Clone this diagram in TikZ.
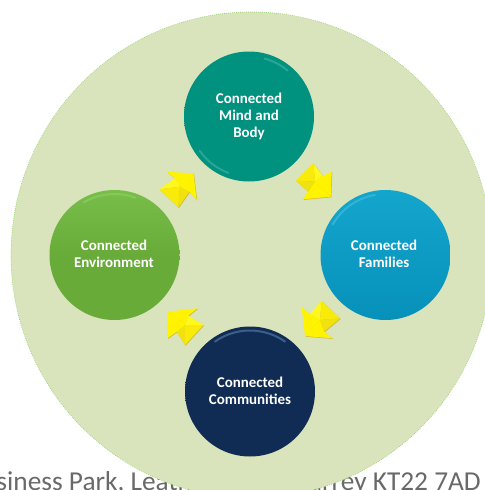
\documentclass[tikz,border=0pt]{standalone}
\usepackage{fontspec}
\setmainfont{Carlito}
\definecolor{bgc}{RGB}{217,228,188}
\definecolor{rimc}{RGB}{150,205,110}
\definecolor{tealc}{RGB}{0,146,127}
\definecolor{teall}{RGB}{40,165,150}
\definecolor{bluec}{RGB}{6,145,186}
\definecolor{bluet}{RGB}{20,165,205}
\definecolor{bluel}{RGB}{50,180,215}
\definecolor{greenc}{RGB}{104,171,56}
\definecolor{greent}{RGB}{120,190,75}
\definecolor{greenl}{RGB}{135,200,90}
\definecolor{navyc}{RGB}{16,44,84}
\definecolor{navyl}{RGB}{60,95,135}
\definecolor{footc}{RGB}{105,105,105}
\definecolor{ya}{RGB}{255,243,0}
\definecolor{yb}{RGB}{255,248,30}
\definecolor{yc}{RGB}{248,235,10}
\definecolor{yd}{RGB}{240,225,15}
\definecolor{ye}{RGB}{205,190,60}
\tikzset{
  disc/.style={circle,minimum size=130*0.75pt,inner sep=0pt},
  disclabel/.style={text=white,font=\fontsize{11.2}{12.8}\selectfont\bfseries,align=center},
  zoomed/.style={x=0.25pt,y=-0.25pt,shift={(105pt,-112.5pt)}},
  rim/.style={line width=1.5pt,line cap=round},
  foottext/.style={inner sep=0pt,text=footc,font=\fontsize{20.5}{24}\selectfont}
}
% tip, barb1, notch1, body1, body2, notch2, barb2, centre
\newcommand{\yellowarrow}[8]{%
  \fill[ye,shift={(0.5pt,-0.5pt)}] (#1)--(#2)--(#3)--(#4)--(#5)--(#6)--(#7)--cycle;
  \fill[ya] (#8)--(#1)--(#2)--(#3)--cycle;
  \fill[yb] (#8)--(#3)--(#4)--cycle;
  \fill[yc] (#8)--(#4)--(#5)--cycle;
  \fill[yd] (#8)--(#5)--(#6)--cycle;
  \fill[ya] (#8)--(#6)--(#7)--(#1)--cycle;
}
\begin{document}
\begin{tikzpicture}[x=0.75pt,y=-0.75pt]
\useasboundingbox (0,0) rectangle (485,490);
\begin{scope}
\clip (0,0) rectangle (485,490);
\node[foottext,anchor=base west] (footl) at (-33,490) {Business Park, Leatherhead,};
\node[foottext,anchor=base east] (footr) at (481,490) {Surrey KT22 7AD};
\fill[bgc,draw=rimc,densely dotted,line width=0.5pt] (251.5,255) ellipse [x radius=240.5,y radius=243];
\end{scope}

\node[disc,top color=tealc,bottom color=tealc] (mind) at (249,116.5) {};
\node[disc,top color=bluet,bottom color=bluec,shading angle=0] (fam) at (385.5,255) {};
\node[disc,top color=navyc,bottom color=navyc] (comm) at (250,391.5) {};
\node[disc,top color=greent,bottom color=greenc,middle color=greenc] (env) at (114.5,255) {};

\draw[rim,teall] (mind.center) ++(-50:60) arc (-50:-75:60);
\draw[rim,teall] (mind.center) ++(-215:60) arc (-215:-250:60);
\draw[rim,bluel] (fam.center) ++(-100:61) arc (-100:-150:61);
\draw[rim,navyl] (comm.center) ++(-55:61) arc (-55:-125:61);
\draw[rim,greenl] (env.center) ++(-70:61) arc (-70:-120:61);

\node[disclabel] (mindt) at (249,116.5) {Connected\\Mind and\\Body};
\node[disclabel] (famt) at (384,254) {Connected\\Families};
\node[disclabel] (commt) at (250,391) {Connected\\Communities};
\node[disclabel] (envt) at (114,254) {Connected\\Environment};

\begin{scope}[zoomed]
\yellowarrow{160,70}{80,65}{105,85}{58,118}{115,172}{148,125}{170,150}{120,110}
\yellowarrow{572,140}{575,65}{548,78}{520,40}{468,92}{505,125}{488,148}{525,95}
\yellowarrow{495,558}{485,472}{510,492}{545,452}{600,505}{552,545}{578,565}{540,510}
\yellowarrow{85,485}{172,475}{145,497}{190,525}{135,585}{110,545}{82,565}{135,525}
\end{scope}
\end{tikzpicture}
\end{document}
